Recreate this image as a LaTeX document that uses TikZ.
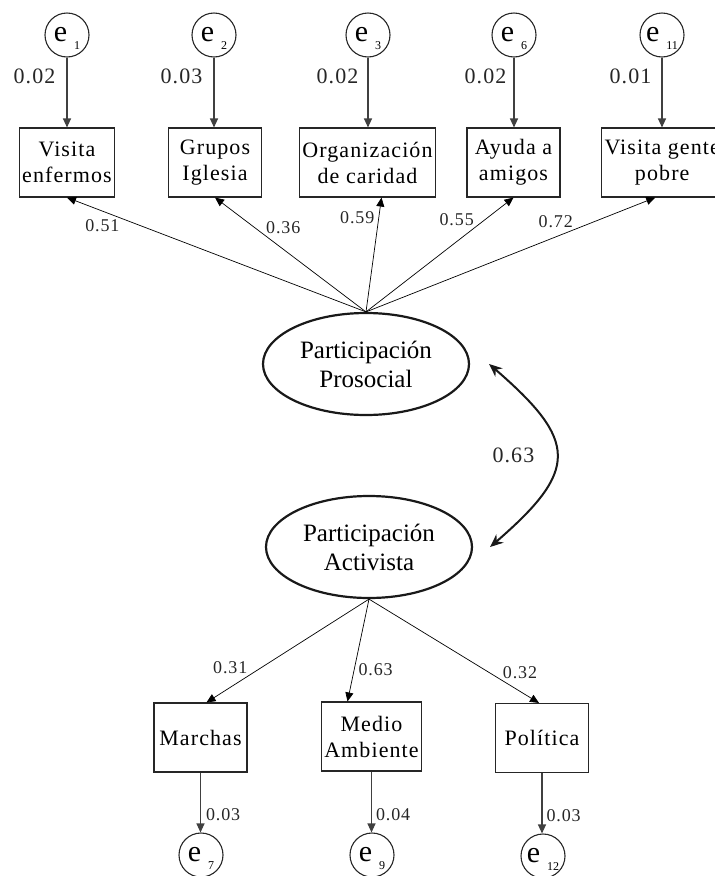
\documentclass[tikz,border=0pt]{standalone}
\usepackage{fontspec}
\setmainfont{Liberation Serif}
\newfontfamily\spacedfont[LetterSpace=5]{Liberation Serif}
\usepackage{tikz}
\usetikzlibrary{arrows.meta,shapes.geometric}
\newcommand{\evar}[1]{{\fontsize{30}{30}\selectfont e}\hspace{7pt}\smash{\raisebox{-8pt}{\fontsize{12}{12}\selectfont #1}}}

\begin{document}
\begin{tikzpicture}[x=1pt,y=-1pt,>={Triangle[length=9pt,width=8pt]}]
    \tikzstyle{err}=[circle,draw=black!85,line width=1.1pt,minimum size=44pt,inner sep=0pt]
    \tikzstyle{obs}=[rectangle,draw=black!85,line width=1.1pt,minimum height=69pt,minimum width=93pt,inner xsep=3pt,align=center,font=\spacedfont\fontsize{22}{26}\selectfont]
    \tikzstyle{lat}=[ellipse,draw=black!90,line width=2.2pt,minimum width=206pt,minimum height=102pt,inner sep=0pt,align=center,font=\fontsize{25}{29}\selectfont]
    \tikzstyle{load}=[->,line width=0.7pt]
    \tikzstyle{res}=[->,draw=black!75,line width=1.1pt]
    \tikzstyle{corr}=[{Stealth[length=13pt,width=11pt]}-{Stealth[length=13pt,width=11pt]},line width=2pt,draw=black!90]
    \tikzstyle{coef}=[font=\spacedfont\fontsize{18}{18}\selectfont,inner sep=1pt,text=black!85]
    \tikzstyle{var}=[font=\spacedfont\fontsize{22}{22}\selectfont,inner sep=1pt,text=black!85]
    \useasboundingbox (0,0) rectangle (715,876);
    \clip (0,0) rectangle (715,876);
    % error terms, top row
    \node[err] (e1) at (67,35) {\evar{1}};
    \node[err] (e2) at (214,35) {\evar{2}};
    \node[err] (e3) at (368,35) {\evar{3}};
    \node[err] (e6) at (514,35) {\evar{6}};
    \node[err] (e11) at (662,35) {\evar{11}};
    % indicators of the prosocial factor
    \node[obs] (b1) at (67,162.5) {Visita\\enfermos};
    \node[obs] (b2) at (215,162.5) {Grupos\\Iglesia};
    \node[obs] (b3) at (367.5,162.5) {Organización\\de caridad};
    \node[obs] (b6) at (513.5,162.5) {Ayuda a\\amigos};
    \node[obs,anchor=west] (b11) at (601,162.5) {Visita gente\\pobre};
    % latent factors
    \node[lat] (pro) at (366,364) {Participación\\Prosocial};
    \node[lat] (act) at (369,547) {Participación\\Activista};
    % indicators of the activist factor
    \node[obs] (marchas) at (200.5,737.5) {Marchas};
    \node[obs] (medio) at (371.5,736.5) {Medio\\Ambiente};
    \node[obs] (politica) at (542,738) {Política};
    \node[err] (e7) at (201,855) {\evar{7}};
    \node[err] (e9) at (372,855) {\evar{9}};
    \node[err] (e12) at (543,856) {\evar{12}};

    \draw[res] (e1.south) -- node[var,pos=0.27,anchor=east,xshift=-10pt]{0.02} (e1.south |- b1.north);
    \draw[res] (e2.south) -- node[var,pos=0.27,anchor=east,xshift=-10pt]{0.03} (e2.south |- b2.north);
    \draw[res] (e3.south) -- node[var,pos=0.27,anchor=east,xshift=-8pt]{0.02} (e3.south |- b3.north);
    \draw[res] (e6.south) -- node[var,pos=0.27,anchor=east,xshift=-6pt]{0.02} (e6.south |- b6.north);
    \draw[res] (e11.south) -- node[var,pos=0.27,anchor=east,xshift=-9pt]{0.01} (e11.south |- b11.north);

    \draw[load] (pro.north) -- node[coef,pos=0.82,anchor=north east]{0.51} (b1.south);
    \draw[load] (pro.north) -- node[coef,pos=0.67,anchor=south west]{0.36} (b2.south);
    \draw[load] (pro.north) -- node[coef,pos=0.82,anchor=east,xshift=-3pt]{0.59} ([xshift=14pt]b3.south);
    \draw[load] (pro.north) -- node[coef,pos=0.74,anchor=south east]{0.55} (b6.south);
    \draw[load] (pro.north) -- node[coef,pos=0.72,anchor=south east]{0.72} ([xshift=-7pt]b11.south);

    \draw[corr] ([xshift=19pt]pro.east) .. controls +(89,77) and +(89,-77) .. node[var,pos=0.5,anchor=east,xshift=-20pt]{0.63} ([xshift=17pt]act.east);

    \draw[load] (act.south) -- node[coef,pos=0.74,anchor=south east]{0.31} ([xshift=6pt]marchas.north);
    \draw[load] (act.south) -- node[coef,pos=0.69,anchor=west,xshift=3pt]{0.63} ([xshift=-24pt]medio.north);
    \draw[load] (act.south) -- node[coef,pos=0.78,anchor=south west]{0.32} ([xshift=-3pt]politica.north);

    \draw[res] (marchas.south) -- node[coef,pos=0.7,anchor=west,xshift=4pt]{0.03} (marchas.south |- e7.north);
    \draw[res] (medio.south) -- node[coef,pos=0.7,anchor=west,xshift=3pt]{0.04} (medio.south |- e9.north);
    \draw[res] (politica.south) -- node[coef,pos=0.7,anchor=west,xshift=3pt]{0.03} (politica.south |- e12.north);
\end{tikzpicture}
\end{document}
